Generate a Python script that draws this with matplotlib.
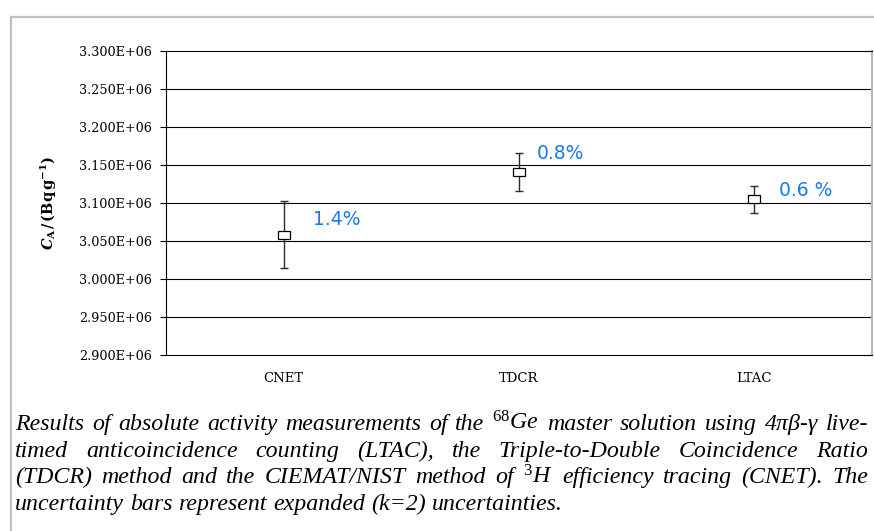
import matplotlib
matplotlib.use("Agg")
import matplotlib.pyplot as plt
from matplotlib.ticker import FixedLocator, FuncFormatter
from matplotlib.lines import Line2D

# ---------------- data ----------------
methods = ["CNET", "TDCR", "LTAC"]
activity = [3.058e6, 3.141e6, 3.105e6]          # Bq/g
uncertainty = [4.4e4, 2.5e4, 1.75e4]            # expanded (k=2)
rel_labels = ["1.4%", "0.8%", "0.6 %"]
y_ticks = [2.90e6, 2.95e6, 3.00e6, 3.05e6, 3.10e6, 3.15e6, 3.20e6, 3.25e6, 3.30e6]
caption_lines = [
    r"Results of absolute activity measurements of the $^{\mathit{68}}$Ge master solution using 4πβ-γ live-",
    r"timed anticoincidence counting (LTAC), the Triple-to-Double Coincidence Ratio",
    r"(TDCR) method and the CIEMAT/NIST method of $^{\mathit{3}}$H efficiency tracing (CNET). The",
    r"uncertainty bars represent expanded (k=2) uncertainties.",
]

# ---------------- styling ----------------
plt.rcParams["mathtext.fontset"] = "custom"
plt.rcParams["mathtext.rm"] = "Liberation Serif"
plt.rcParams["mathtext.it"] = "Liberation Serif:italic"
plt.rcParams["mathtext.bf"] = "DejaVu Serif:bold"
plt.rcParams["mathtext.bfit"] = "DejaVu Serif:italic:bold"

W_PX, H_PX, DPI = 874, 531, 100
fig = plt.figure(figsize=(W_PX / DPI, H_PX / DPI), dpi=DPI)
fig.patch.set_facecolor("white")

ax_left, ax_right, ax_top, ax_bottom = 166, 872, 51, 355
ax = fig.add_axes([ax_left / W_PX, 1 - ax_bottom / H_PX,
                   (ax_right - ax_left) / W_PX, (ax_bottom - ax_top) / H_PX])

x = list(range(len(methods)))
rect_marker = [(-1.5, -1), (1.5, -1), (1.5, 1), (-1.5, 1), (-1.5, -1)]
ax.errorbar(x, activity, yerr=uncertainty, fmt="none", ecolor="#2b2b2b",
            elinewidth=1.0, capsize=3.2, capthick=1.0, zorder=3)
ax.plot(x, activity, linestyle="none", marker=rect_marker, markersize=8,
        markerfacecolor="white", markeredgecolor="black", markeredgewidth=0.9, zorder=4)

offsets = [(21, 11), (13, 13), (18, 6.5)]
for xi, yi, lab, off in zip(x, activity, rel_labels, offsets):
    ax.annotate(lab, (xi, yi), xytext=off, textcoords="offset points",
                ha="left", va="center", color="#1a78f0",
                fontsize=13.5, family="DejaVu Sans")

ax.set_xlim(-0.5, len(methods) - 0.5)
ax.set_ylim(y_ticks[0], y_ticks[-1])
ax.yaxis.set_major_locator(FixedLocator(y_ticks))
ax.yaxis.set_major_formatter(FuncFormatter(lambda v, p: f"{v:.3E}"))
ax.set_xticks(x)
ax.set_xticklabels(methods, family="DejaVu Serif", fontsize=9.5)
for lab in ax.get_yticklabels():
    lab.set_family("DejaVu Serif")
    lab.set_fontsize(9.2)
ax.tick_params(axis="y", length=4.3, width=0.8, pad=5.8, color="black")
ax.tick_params(axis="x", length=0, pad=12)

for yt in y_ticks[1:-1]:
    ax.axhline(yt, color="black", linewidth=0.8, zorder=1)

ax.spines["top"].set_color("black")
ax.spines["top"].set_linewidth(0.8)
ax.spines["left"].set_linewidth(0.8)
ax.spines["bottom"].set_linewidth(0.8)
ax.spines["right"].set_color("#b8b8b8")
ax.spines["right"].set_linewidth(1.5)

ax.set_ylabel(r"$\mathbfit{C}_\mathbf{A}\,\mathbf{/\,(Bq\,g^{-1})}$", fontsize=10.5)
ax.yaxis.set_label_coords(-0.152, 0.5)

# outer frame (gray)
fig.add_artist(Line2D([11 / W_PX, 1.0], [1 - 16.5 / H_PX, 1 - 16.5 / H_PX],
                      transform=fig.transFigure, color="#c0c0c0", linewidth=1.6))
fig.add_artist(Line2D([11 / W_PX, 11 / W_PX], [0, 1 - 16.5 / H_PX],
                      transform=fig.transFigure, color="#c0c0c0", linewidth=1.6))

# ---------------- justified caption ----------------
fig.canvas.draw()
renderer = fig.canvas.get_renderer()
cap_kw = dict(fontsize=17.2, family="Liberation Serif", style="italic",
              va="baseline", ha="left")
x0, x1 = 15, 868
baselines = [430, 456.8, 483.3, 509.6]
probe_a = fig.text(0, 0, "a a", **cap_kw)
probe_b = fig.text(0, 0, "aa", **cap_kw)
space_w = probe_a.get_window_extent(renderer).width - probe_b.get_window_extent(renderer).width
probe_a.remove()
probe_b.remove()
for li, line in enumerate(caption_lines):
    words = line.split(" ")
    texts = [fig.text(0, 0, w, **cap_kw) for w in words]
    widths = [t.get_window_extent(renderer).width for t in texts]
    if li < len(caption_lines) - 1 and len(words) > 1:
        gap = (x1 - x0 - sum(widths)) / (len(words) - 1)
    else:
        gap = space_w
    xp = x0
    for t, wdt in zip(texts, widths):
        t.set_position((xp / W_PX, 1 - baselines[li] / H_PX))
        xp += wdt + gap

fig.savefig("out.png", dpi=DPI, facecolor="white")
